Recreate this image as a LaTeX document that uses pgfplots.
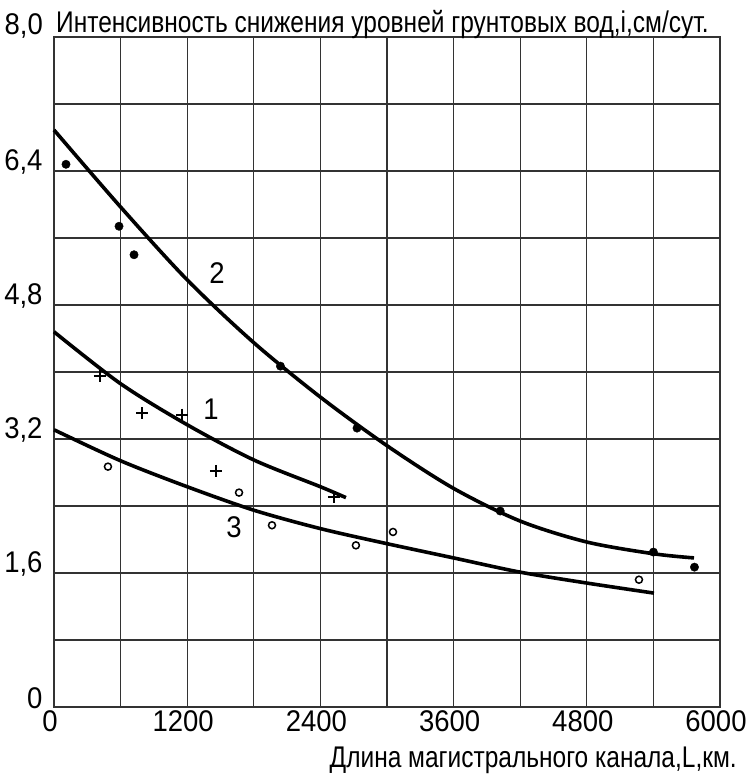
\documentclass[border=0pt]{standalone}
\usepackage{fontspec}
\setmainfont{Liberation Sans}[FakeStretch=0.82]
\newfontfamily\tickfont{Liberation Sans}[FakeStretch=0.92]
\usepackage{pgfplots}
\pgfplotsset{compat=1.18}

% curve 2 (filled dots), curve 1 (+), curve 3 (open circles)
\pgfplotstableread{
x y
0 6.89
600 5.97
1200 5.10
1800 4.35
2400 3.70
3000 3.12
3600 2.61
4200 2.22
4800 1.97
5400 1.83
5766 1.78
}\curvetwo
\pgfplotstableread{
x y
108 6.48
586 5.74
721 5.40
2040 4.07
2730 3.33
4020 2.34
5400 1.85
5770 1.67
}\pointstwo
\pgfplotstableread{
x y
0 4.48
600 3.86
1200 3.37
1800 2.95
2400 2.63
2630 2.50
}\curveone
\pgfplotstableread{
x y
414 3.95
793 3.51
1153 3.49
1459 2.82
2522 2.51
}\pointsone
\pgfplotstableread{
x y
0 3.31
600 2.94
1200 2.63
1800 2.35
2400 2.13
3000 1.95
3600 1.78
4200 1.61
4800 1.48
5405 1.36
}\curvethree
\pgfplotstableread{
x y
486 2.87
1667 2.56
1964 2.17
2720 1.93
3054 2.09
5270 1.52
}\pointsthree

\begin{document}
\begin{tikzpicture}[font=\fontsize{30}{36}\selectfont]
\begin{axis}[
    width=666bp, height=670bp, scale only axis,
    xmin=0, xmax=6000, ymin=0, ymax=8,
    xtick={0,1200,2400,3600,4800,6000},
    minor xtick={600,1800,3000,4200,5400},
    ytick={0,1.6,3.2,4.8,6.4,8},
    yticklabels={0,{1,6},{3,2},{4,8},{6,4},{}},
    minor ytick={0.8,2.4,4,5.6,7.2},
    grid=both,
    major grid style={black!80, line width=1.3bp},
    minor grid style={black!80, line width=1.3bp},
    axis line style={black!80, line width=1.3bp},
    major tick length=0pt, minor tick length=0pt,
    /pgf/number format/assume math mode=true,
    /pgf/number format/1000 sep={},
    every tick label/.style={font=\fontsize{30}{36}\tickfont},
    yticklabel style={yshift=9bp, xshift=-8bp},
    xticklabel style={xshift=-4bp},
    clip=false,
]
\addplot[black, line width=3.6bp, smooth] table {\curvetwo};
\addplot[only marks, mark=*, mark size=4.2bp, black] table {\pointstwo};
\addplot[black, line width=3.6bp, smooth] table {\curveone};
\addplot[only marks, mark=+, mark size=6bp, black, line width=2.2bp] table {\pointsone};
\addplot[black, line width=3.6bp, smooth] table {\curvethree};
\addplot[only marks, mark=o, mark size=3.5bp, black, line width=1.5bp, fill=white] table {\pointsthree};

\node[font=\fontsize{30}{36}\tickfont] at (axis cs:1414,3.55) {1};
\node[font=\fontsize{30}{36}\tickfont] at (axis cs:1468,5.18) {2};
\node[font=\fontsize{30}{36}\tickfont] at (axis cs:1622,2.15) {3};

\node[anchor=base east, inner sep=0pt, font=\fontsize{30}{36}\tickfont] at ([xshift=-11bp, yshift=2bp]rel axis cs:0,1) {8,0};
\node[anchor=base west, inner sep=0pt] at ([xshift=2bp, yshift=4bp]rel axis cs:0,1) {Интенсивность снижения уровней грунтовых вод,i,см/сут.};
\node[anchor=base east, inner sep=0pt] at ([xshift=17bp, yshift=-60bp]rel axis cs:1,0) {Длина магистрального канала,L,км.};
\end{axis}
\pgfresetboundingbox
\path ([shift={(-54bp,-73bp)}]current axis.south west) rectangle ([shift={(28bp,37bp)}]current axis.north east);
\end{tikzpicture}
\end{document}
